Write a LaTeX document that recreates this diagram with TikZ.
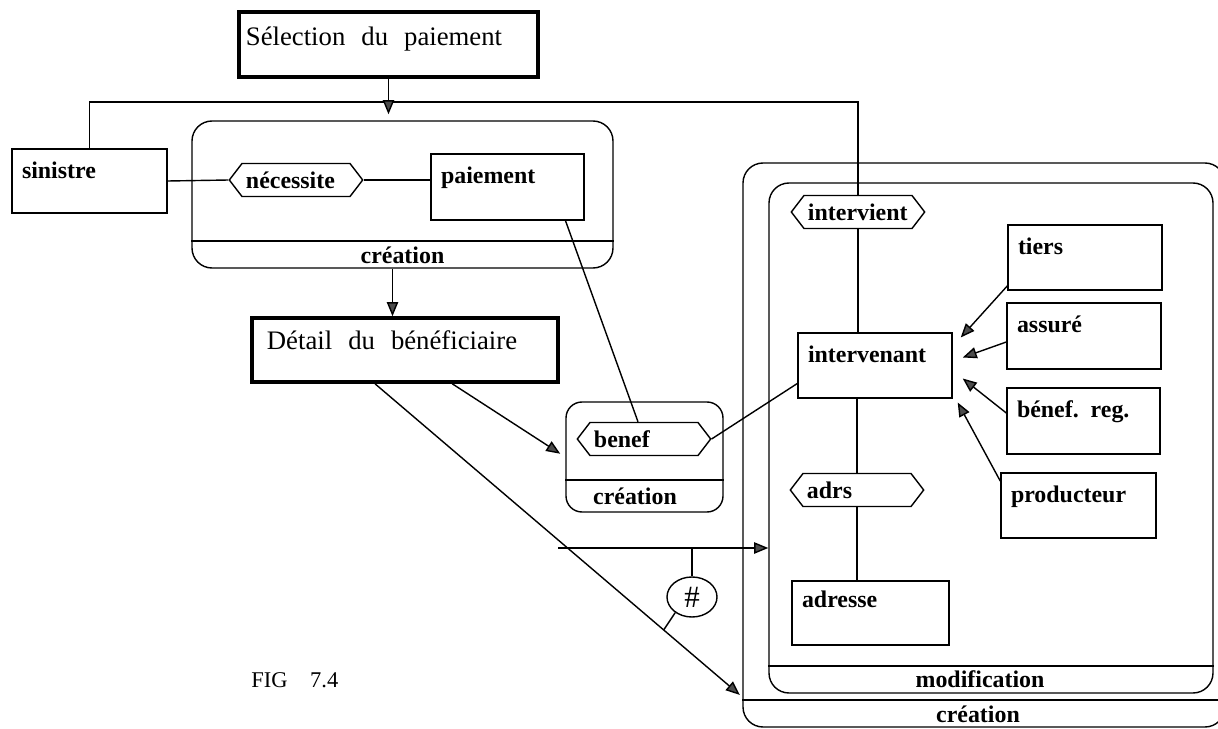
\documentclass[tikz,border=0pt]{standalone}
\usepackage{fontspec}
\setmainfont{Liberation Serif}
\usetikzlibrary{arrows.meta,shapes.symbols,shapes.geometric,fit}

\newcommand{\lbl}{\fontsize{17}{20}\selectfont\bfseries}
\newcommand{\ttl}{\fontsize{19}{22}\selectfont\spaceskip=0.6em}

\tikzset{
  ent/.style={draw, rectangle, inner sep=0pt},
  hdr/.style={draw, rectangle, inner sep=0pt, line width=2.5pt},
  txt/.style={anchor=base west, inner sep=0pt, xshift=0.25cm, yshift=-0.75cm, font=\lbl},
  ttx/.style={anchor=base west, inner sep=0pt, xshift=0.2cm, yshift=-0.87cm, font=\ttl},
  rel/.style={draw, signal, signal to=east and west, signal pointer angle=105,
    minimum height=0.825cm, text width=2.5cm, inner xsep=0.1cm, inner ysep=0pt,
    align=left, font=\lbl},
  grp/.style={draw, rectangle, rounded corners=0.5cm, inner sep=0pt},
}

\begin{document}
\begin{tikzpicture}[x=0.025cm, y=-0.025cm, line width=1pt,
  >={Triangle[length=10pt,width=8pt,fill=black!70]}]
\useasboundingbox (0,0) rectangle (1218,729);

% ecrans
\node[hdr, fit={(239,12) (538,77)}, label={[ttx]north west:Sélection du paiement}] (sel) {};
\node[hdr, fit={(252,318) (558,382)}, label={[ttx, xshift=0.2cm, yshift=0.05cm]north west:Détail du bénéficiaire}] (det) {};

% creation du paiement
\node[grp, fit={(192,121) (613,268)}] (cre1) {};
\draw (cre1.west |- 0,241) -- (cre1.east |- 0,241);
\node[font=\lbl] (cre1t) at (cre1.south |- 0,255) {création};
\node[ent, fit={(12,149) (167,213)}, label={[txt]north west:sinistre}] (sin) {};
\node[ent, fit={(431,154) (584,220)}, label={[txt]north west:paiement}] (pai) {};
\node[rel] (nec) at (296,180) {nécessite};

% creation du beneficiaire
\node[grp, rounded corners=0.4cm, fit={(566,402) (723,512)}] (cre2) {};
\draw (cre2.west |- 0,480) -- (cre2.east |- 0,480);
\node[font=\lbl] (cre2t) at (635,496) {création};
\node[rel] (bnf) at (644,439) {benef};

% intervenants
\node[grp, fit={(743,163) (1225,727)}] (cre3) {};
\draw (cre3.west |- 0,700) -- (cre3.east |- 0,700);
\node[font=\lbl] (cre3t) at (978,714) {création};
\node[grp, fit={(769,183) (1213,693)}] (mod) {};
\draw (mod.west |- 0,666) -- (mod.east |- 0,666);
\node[font=\lbl] (modt) at (980,679) {modification};

\node[ent, fit={(798,333) (952,398)}, label={[txt]north west:intervenant}] (itv) {};
\node[ent, fit={(1008,225) (1162,290)}, label={[txt]north west:tiers}] (tie) {};
\node[ent, fit={(1007,303) (1161,369)}, label={[txt]north west:assuré}] (asr) {};
\node[ent, fit={(1007,388) (1160,454)}, label={[txt]north west:bénef.\ \ reg.}] (bnr) {};
\node[ent, fit={(1001,473) (1156,538)}, label={[txt]north west:producteur}] (prd) {};
\node[ent, fit={(792,581) (949,645)}, label={[txt, yshift=0.08cm]north west:adresse}] (adr) {};
\node[rel] (intv) at (858,212) {intervient};
\node[rel] (adrs) at (857,490) {adrs};

\node[font=\fontsize{16}{19}\selectfont, anchor=west] (fig) at (246,680) {FIG\quad 7.4};

% liens
\coordinate (bus) at (480,102);
\draw (sin.north) |- (bus) -| (intv.north);
\draw[->, shorten >=0.15cm] (sel.south) -- (sel.south |- cre1.north);
\draw (sin.east) -- (nec.west);
\draw (nec.east) -- (nec.east -| pai.west);
\draw[->] ([xshift=-0.25cm]cre1.south) -- ([xshift=-0.25cm]cre1.south |- det.north);
\draw ([xshift=-0.48cm]pai.south east) -- ([xshift=-0.15cm]bnf.north);
\draw (bnf.east) -- ([yshift=-0.45cm]itv.west);
\draw (intv.south) -- (intv.south |- itv.north);
\draw (adrs.north |- itv.south) -- (adrs.north);
\draw (adrs.south) -- (adrs.south |- adr.north);

\draw[->, shorten >=0.15cm] ([xshift=1.18cm]det.south) -- (cre2.west);
\coordinate (d1) at (cre3.west |- 0,697);
\draw[->, shorten >=0.08cm] ([xshift=-0.75cm]det.south) -- coordinate[pos=0.786] (dh) (d1);
\coordinate (h0) at (558,548);
\draw[->] (h0) -- (h0 -| mod.west);
\node[draw, ellipse, minimum width=1.25cm, minimum height=1cm, inner sep=0pt,
  font=\fontsize{22}{24}\selectfont] (neq) at (692,597) {\#};
\draw (neq.north) -- (neq.north |- h0);
\draw (neq.223) -- (dh);

% heritage
\draw[->] ([yshift=0.12cm]tie.south west) -- ([shift={(8,-28)}]itv.east);
\draw[->] ([yshift=-0.15cm]asr.west) -- ([shift={(10,-8)}]itv.east);
\draw[->] ([yshift=0.2cm]bnr.west) -- ([shift={(10,13)}]itv.east);
\draw[->] ([yshift=-0.22cm]prd.north west) -- ([shift={(5,37)}]itv.east);
\end{tikzpicture}
\end{document}
